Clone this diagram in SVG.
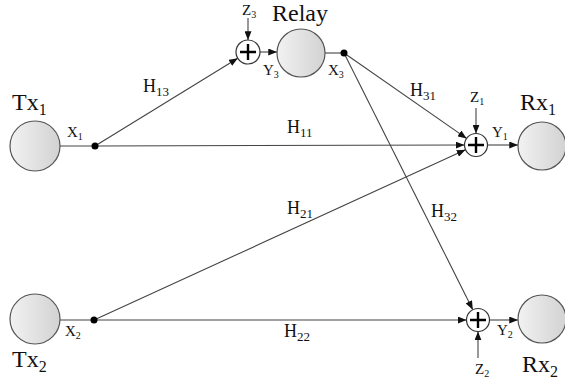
<svg xmlns="http://www.w3.org/2000/svg" width="565" height="381" viewBox="0 0 565 381">
<style>
text{font-family:"Liberation Serif","Times New Roman",serif;fill:#111}
.big{font-size:24px}
.h{font-size:18px}
.s{font-size:15px}
.node{stroke:#555;stroke-width:1.2;fill:url(#g)}
.add{stroke:#333;stroke-width:1.2;fill:#fff}
.plus{stroke:#000;stroke-width:2.4}
.ln{stroke:#444;stroke-width:1.1;fill:none}
.arr{marker-end:url(#ah)}
</style>
<defs>
<linearGradient id="g" x1="0" y1="0" x2="1" y2="0">
<stop offset="0" stop-color="#f2f2f2"/>
<stop offset="1" stop-color="#d2d2d2"/>
</linearGradient>
<marker id="ah" viewBox="0 0 10 8" refX="10" refY="4" markerWidth="9" markerHeight="7" markerUnits="userSpaceOnUse" orient="auto">
<path d="M0,0 L10,4 L0,8 Z" fill="#111"/>
</marker>
</defs>
<g id="connectors">
<line class="ln" x1="60" y1="146" x2="95" y2="146"/>
<line class="ln arr" x1="95" y1="146" x2="464.5" y2="145"/>
<line class="ln arr" x1="95" y1="146" x2="237.8" y2="58.3"/>
<line class="ln arr" x1="248" y1="18" x2="248" y2="40"/>
<line class="ln arr" x1="260" y1="52" x2="277" y2="52"/>
<line class="ln" x1="325" y1="53" x2="344" y2="53"/>
<line class="ln arr" x1="344" y1="53" x2="466.6" y2="138.4"/>
<line class="ln arr" x1="344" y1="53" x2="472.8" y2="309.7"/>
<line class="ln" x1="60" y1="320" x2="94" y2="320"/>
<line class="ln arr" x1="94" y1="320" x2="465.5" y2="149.8"/>
<line class="ln arr" x1="94" y1="320" x2="466.5" y2="320"/>
<line class="ln arr" x1="476" y1="108" x2="476" y2="133.5"/>
<line class="ln arr" x1="478" y1="358" x2="478" y2="331.5"/>
<line class="ln arr" x1="487.5" y1="145" x2="518" y2="145"/>
<line class="ln arr" x1="489.5" y1="320" x2="518" y2="320"/>
<circle cx="95" cy="146" r="3.5" fill="#000"/>
<circle cx="94" cy="320" r="3.5" fill="#000"/>
<circle cx="344" cy="53" r="3.5" fill="#000"/>
</g>
<g id="tx1">
<circle class="node" cx="35" cy="146" r="25"/>
<text class="big" x="12" y="110">Tx<tspan font-size="16" dy="5">1</tspan></text>
<text class="s" x="67" y="137">X<tspan font-size="10" dy="3">1</tspan></text>
</g>
<g id="tx2">
<circle class="node" cx="35" cy="319" r="25"/>
<text class="big" x="12" y="367">Tx<tspan font-size="16" dy="5">2</tspan></text>
<text class="s" x="65" y="336">X<tspan font-size="10" dy="3">2</tspan></text>
</g>
<g id="adder3">
<circle class="add" cx="248" cy="52" r="12"/>
<path class="plus" d="M248,44 V60 M240,52 H256"/>
<text class="s" x="242" y="15">Z<tspan font-size="10" dy="3">3</tspan></text>
<text class="s" x="263" y="75">Y<tspan font-size="10" dy="3">3</tspan></text>
</g>
<g id="relay">
<circle class="node" cx="301" cy="53" r="24"/>
<text class="big" x="272" y="21">Relay</text>
<text class="s" x="328" y="75">X<tspan font-size="10" dy="3">3</tspan></text>
</g>
<g id="adder1">
<circle class="add" cx="476" cy="145" r="11.5"/>
<path class="plus" d="M476,137 V153 M468,145 H484"/>
<text class="s" x="470" y="102">Z<tspan font-size="10" dy="3">1</tspan></text>
<text class="s" x="492" y="137">Y<tspan font-size="10" dy="3">1</tspan></text>
</g>
<g id="adder2">
<circle class="add" cx="478" cy="320" r="11.5"/>
<path class="plus" d="M478,312 V328 M470,320 H486"/>
<text class="s" x="475" y="374">Z<tspan font-size="10" dy="3">2</tspan></text>
<text class="s" x="497" y="335">Y<tspan font-size="10" dy="3">2</tspan></text>
</g>
<g id="rx1">
<circle class="node" cx="542" cy="146" r="24"/>
<text class="big" x="520" y="110">Rx<tspan font-size="16" dy="5">1</tspan></text>
</g>
<g id="rx2">
<circle class="node" cx="542" cy="319" r="24"/>
<text class="big" x="522" y="372">Rx<tspan font-size="16" dy="5">2</tspan></text>
</g>
<g id="labels">
<text class="h" x="143" y="92">H<tspan font-size="13" dy="4">13</tspan></text>
<text class="h" x="410" y="96">H<tspan font-size="13" dy="4">31</tspan></text>
<text class="h" x="287" y="133">H<tspan font-size="13" dy="4">11</tspan></text>
<text class="h" x="287" y="214">H<tspan font-size="13" dy="4">21</tspan></text>
<text class="h" x="431" y="217">H<tspan font-size="13" dy="4">32</tspan></text>
<text class="h" x="284" y="337">H<tspan font-size="13" dy="4">22</tspan></text>
</g>
</svg>
